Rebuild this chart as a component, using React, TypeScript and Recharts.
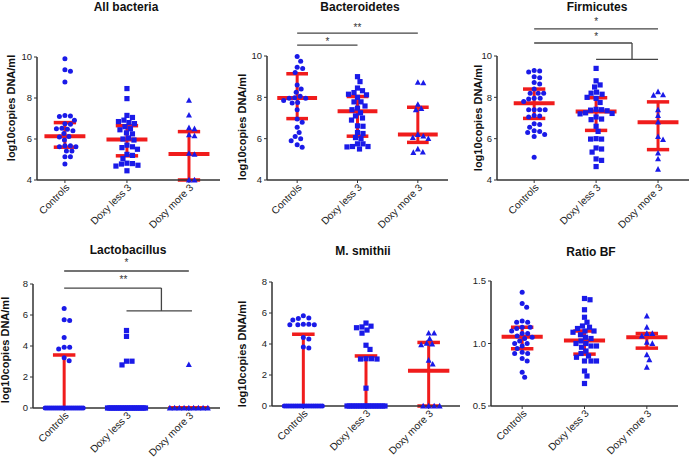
import React from 'react';
import { ComposedChart, Scatter, XAxis, YAxis, ReferenceLine, ReferenceDot } from 'recharts';

const groups = ['Controls', 'Doxy less 3', 'Doxy more 3'];

const BLUE = '#1a1ae8';
const RED = '#f01c1c';
const INK = '#333333';

// All bacteria
const allCtl = [9.92, 9.38, 9.3, 8.78, 7.15, 7.12, 7.1, 6.92, 6.75, 6.72, 6.52, 6.5, 6.48, 6.4, 6.27, 6.12, 6.1, 5.95, 5.67, 5.67, 5.62, 5.62, 5.41, 5.41, 5.14, 5.14, 4.78];
const allLess = [8.46, 7.97, 7.15, 7.05, 6.92, 6.85, 6.8, 6.75, 6.6, 6.5, 6.45, 6.3, 6.25, 6.05, 6.0, 5.95, 5.7, 5.62, 5.58, 5.5, 5.25, 5.2, 5.05, 4.82, 4.8, 4.78, 4.72, 4.68, 4.45];
const allMore = [7.88, 7.16, 6.55, 6.5, 6.2, 6.15, 5.3, 5.25, 4.0, 4.0];
const allMed = [6.13, 5.98, 5.27];
const allLow = [5.6, 5.18, 4.0];
const allHigh = [6.8, 6.65, 6.36];

// Bacteroidetes
const bacCtl = [9.97, 9.75, 9.45, 9.4, 9.2, 8.6, 8.4, 8.25, 8.05, 7.98, 7.95, 7.95, 7.85, 7.75, 7.72, 7.4, 6.95, 6.8, 6.55, 6.3, 6.1, 6.0, 5.9, 5.7, 5.58];
const bacLess = [9.0, 8.76, 8.45, 8.32, 8.23, 8.15, 8.12, 8.0, 7.78, 7.78, 7.58, 7.48, 7.4, 7.25, 7.1, 7.0, 6.9, 6.62, 6.6, 6.3, 6.25, 6.05, 6.0, 5.75, 5.75, 5.62, 5.62, 5.6, 5.5];
const bacMore = [8.72, 8.7, 7.66, 7.45, 7.4, 6.2, 6.12, 6.05, 6.0, 5.5, 5.35, 5.33];
const bacMed = [7.97, 7.33, 6.2];
const bacLow = [6.97, 6.12, 5.82];
const bacHigh = [9.14, 8.04, 7.52];

// Firmicutes
const firCtl = [9.3, 9.28, 9.22, 9.0, 8.95, 8.72, 8.65, 8.4, 8.2, 8.2, 8.2, 7.95, 7.95, 7.92, 7.8, 7.4, 7.4, 7.4, 7.4, 7.12, 7.1, 7.05, 6.72, 6.68, 6.55, 6.38, 6.35, 6.3, 6.2, 6.1, 5.1];
const firLess = [9.4, 8.8, 8.6, 8.5, 8.25, 8.2, 8.15, 8.0, 7.95, 7.75, 7.42, 7.4, 7.38, 7.35, 7.25, 7.22, 7.2, 7.05, 6.95, 6.92, 6.6, 6.35, 6.0, 5.98, 5.98, 5.55, 5.5, 5.35, 5.02, 4.95, 4.65];
const firMore = [8.27, 8.12, 8.1, 7.4, 7.12, 6.8, 6.1, 5.95, 5.3, 5.02, 4.52];
const firMed = [7.71, 7.32, 6.8];
const firLow = [6.98, 6.4, 5.47];
const firHigh = [8.4, 7.98, 7.78];

// Lactobacillus
const lacCtl = [6.42, 5.7, 5.65, 4.55, 3.92, 3.92, 3.8, 3.25, 3.05, 0, 0, 0, 0, 0, 0, 0, 0, 0, 0, 0, 0, 0, 0, 0, 0, 0, 0, 0, 0];
const lacLess = [5.0, 4.62, 3.02, 3.02, 2.78, 0, 0, 0, 0, 0, 0, 0, 0, 0, 0, 0, 0, 0, 0, 0, 0, 0, 0, 0, 0, 0, 0];
const lacMore = [2.8, 0, 0, 0, 0, 0, 0, 0, 0, 0];
const lacMed = [0, 0, 0];
const lacLow = [0, 0, 0];
const lacHigh = [3.42, 0, 0];

// M. smithii
const msmCtl = [5.82, 5.68, 5.65, 5.55, 5.28, 5.27, 5.25, 5.25, 5.25, 4.42, 4.32, 3.8, 3.75, 0, 0, 0, 0, 0, 0, 0, 0, 0, 0, 0, 0, 0, 0, 0, 0, 0, 0];
const msmLess = [5.35, 5.15, 5.1, 5.05, 4.9, 4.7, 3.92, 3.65, 3.05, 3.05, 3.03, 3.03, 1.15, 0, 0, 0, 0, 0, 0, 0, 0, 0, 0, 0, 0, 0, 0, 0, 0, 0];
const msmMore = [4.7, 4.7, 4.35, 4.05, 4.0, 3.95, 2.95, 2.7, 0, 0, 0, 0];
const msmMed = [0, 0, 2.28];
const msmLow = [0, 0, 0];
const msmHigh = [4.63, 3.23, 4.1];

// Ratio BF
const ratCtl = [1.41, 1.32, 1.29, 1.18, 1.17, 1.17, 1.13, 1.13, 1.12, 1.1, 1.08, 1.08, 1.06, 1.05, 1.04, 1.02, 1.0, 1.0, 0.98, 0.96, 0.93, 0.92, 0.92, 0.88, 0.86, 0.77, 0.73];
const ratLess = [1.36, 1.35, 1.27, 1.21, 1.17, 1.14, 1.13, 1.12, 1.1, 1.1, 1.09, 1.07, 1.05, 1.04, 1.02, 1.0, 1.0, 0.98, 0.98, 0.97, 0.94, 0.92, 0.9, 0.89, 0.86, 0.86, 0.86, 0.78, 0.74, 0.68];
const ratMore = [1.22, 1.13, 1.08, 1.08, 1.06, 1.01, 1.0, 0.91, 0.87, 0.81];
const ratMed = [1.055, 1.025, 1.05];
const ratLow = [0.958, 0.915, 0.963];
const ratHigh = [1.13, 1.1, 1.08];

// significance brackets: [x1, y1, x2, y2] in axis units, stars as [x, y, text]
const bacLines = [[0, 10.53, 1, 10.53], [0, 11.11, 2, 11.11]];
const bacStars: [number, number, string][] = [[0.5, 10.7, '*'], [1, 11.38, '**']];
const firLines = [[0, 11.31, 2, 11.31], [0, 10.63, 1.58, 10.63], [1.58, 10.63, 1.58, 9.84], [1, 9.84, 2, 9.84]];
const firStars: [number, number, string][] = [[1, 11.69, '*'], [1, 10.92, '*']];
const lacLines = [[0, 8.84, 2, 8.84], [0, 7.74, 1.56, 7.74], [1.56, 7.74, 1.56, 6.26], [1, 6.26, 2.05, 6.26]];
const lacStars: [number, number, string][] = [[1, 9.36, '*'], [0.95, 8.26, '**']];

// spread points sideways so they don't overlap (beeswarm-style), result in x-axis units
function swarm(values: number[], pyu: number, pxu: number): number[] {
  const d = 5.5;
  const out = new Array(values.length).fill(0);
  const placed: { x: number; y: number }[] = [];
  const same = new Map<number, number[]>();
  values.forEach((v, i) => {
    const a = same.get(v) ?? [];
    a.push(i);
    same.set(v, a);
  });
  same.forEach((idx, v) => {
    if (idx.length < 7) return;
    const n = idx.length;
    idx.forEach((i, k) => {
      const x = -19 + (38 * k) / (n - 1);
      out[i] = x / pxu;
      placed.push({ x, y: v * pyu });
    });
  });
  const order = values
    .map((_, i) => i)
    .filter((i) => same.get(values[i])!.length < 7)
    .sort((a, b) => values[b] - values[a]);
  for (const i of order) {
    const y = values[i] * pyu;
    let x = 0;
    for (let k = 0; k < 300; k++) {
      const c = k === 0 ? 0 : (k % 2 ? 1 : -1) * Math.ceil(k / 2) * 0.5;
      if (placed.every((p) => Math.hypot(p.x - c, p.y - y) >= d)) {
        x = c;
        break;
      }
    }
    placed.push({ x, y });
    out[i] = x / pxu;
  }
  return out;
}

const Circle = (p: any) => <circle cx={p.cx} cy={p.cy} r={2.5} fill={BLUE} />;
const Square = (p: any) => <rect x={p.cx - 2.6} y={p.cy - 2.6} width={5.2} height={5.2} fill={BLUE} />;
const Triangle = (p: any) => (
  <polygon points={`${p.cx},${p.cy - 3.2} ${p.cx + 3},${p.cy + 2.4} ${p.cx - 3},${p.cy + 2.4}`} fill={BLUE} />
);
const shapes = [Circle, Square, Triangle];

const YTitle = ({ px, py }: any) => (
  <text
    x={0}
    y={0}
    transform={`translate(${px},${py}) rotate(-90)`}
    textAnchor="middle"
    dominantBaseline="central"
    fontSize={11}
    fontWeight="bold"
    fill="#111"
  >
    log10copies DNA/ml
  </text>
);

const StarText = (p: any) => (
  <text x={p.cx} y={p.cy} textAnchor="middle" dominantBaseline="central" fontSize={10} fill={INK}>
    {p.text}
  </text>
);

type PanelProps = {
  title: string;
  left: number;
  top: number;
  width: number;
  height: number;
  mTop: number;
  mRight: number;
  yWidth: number;
  xHeight: number;
  xDomain: [number, number];
  yDomain: [number, number];
  yTicks: number[];
  yFmt?: (v: number) => string;
  series: number[][];
  med: number[];
  low: number[];
  high: number[];
  lines?: number[][];
  stars?: [number, number, string][];
  titleX: number;
  titleY: number;
  yLabel?: [number, number];
};

const Panel = (p: PanelProps) => {
  const plotW = p.width - p.mRight - p.yWidth;
  const plotH = p.height - p.mTop - p.xHeight;
  const pxu = plotW / (p.xDomain[1] - p.xDomain[0]);
  const pyu = plotH / (p.yDomain[1] - p.yDomain[0]);
  const data = p.series.map((vals, g) => {
    const off = swarm(vals, pyu, pxu);
    return vals.map((v, i) => ({ x: g + off[i], y: v }));
  });
  return (
    <div style={{ position: 'absolute', left: p.left, top: p.top, width: p.width, height: p.height }}>
      <ComposedChart
        width={p.width}
        height={p.height}
        margin={{ top: p.mTop, right: p.mRight, bottom: 0, left: 0 }}
      >
        <XAxis
          type="number"
          dataKey="x"
          domain={p.xDomain}
          ticks={[0, 1, 2]}
          interval={0}
          tickFormatter={(v: number) => groups[v] ?? ''}
          height={p.xHeight}
          angle={-45}
          textAnchor="end"
          tickSize={3}
          tickMargin={0}
          axisLine={{ stroke: INK, strokeWidth: 1.5 }}
          tickLine={{ stroke: INK }}
          tick={{ fontSize: 10.2, fill: '#222' }}
        />
        <YAxis
          type="number"
          dataKey="y"
          domain={p.yDomain}
          ticks={p.yTicks}
          interval={0}
          width={p.yWidth}
          tickSize={3}
          tickFormatter={p.yFmt}
          axisLine={{ stroke: INK, strokeWidth: 1.5 }}
          tickLine={{ stroke: INK }}
          tick={{ fontSize: 9.5, fill: '#222' }}
          label={p.yLabel ? <YTitle px={p.yLabel[0]} py={p.yLabel[1]} /> : undefined}
        />
        {data.map((d, g) => (
          <Scatter key={g} data={d} shape={shapes[g]} isAnimationActive={false} />
        ))}
        {p.med.map((m, g) => (
          <ReferenceLine key={'m' + g} ifOverflow="visible" stroke={RED} strokeWidth={4}
            segment={[{ x: g - 0.33, y: m }, { x: g + 0.33, y: m }]} />
        ))}
        {p.med.map((_, g) => (
          <ReferenceLine key={'v' + g} ifOverflow="visible" stroke={RED} strokeWidth={3}
            segment={[{ x: g, y: p.low[g] }, { x: g, y: p.high[g] }]} />
        ))}
        {p.low.map((l, g) => (
          <ReferenceLine key={'l' + g} ifOverflow="visible" stroke={RED} strokeWidth={3.5}
            segment={[{ x: g - 0.18, y: l }, { x: g + 0.18, y: l }]} />
        ))}
        {p.high.map((h, g) => (
          <ReferenceLine key={'h' + g} ifOverflow="visible" stroke={RED} strokeWidth={3.5}
            segment={[{ x: g - 0.18, y: h }, { x: g + 0.18, y: h }]} />
        ))}
        {(p.lines ?? []).map((l, i) => (
          <ReferenceLine key={'b' + i} ifOverflow="visible" stroke="#444" strokeWidth={1.3}
            segment={[{ x: l[0], y: l[1] }, { x: l[2], y: l[3] }]} />
        ))}
        {(p.stars ?? []).map((s, i) => (
          <ReferenceDot key={'s' + i} x={s[0]} y={s[1]} ifOverflow="visible"
            shape={(sp: any) => <StarText {...sp} text={s[2]} />} />
        ))}
      </ComposedChart>
      <div
        style={{
          position: 'absolute',
          left: p.titleX - 100,
          top: p.titleY - 7,
          width: 200,
          textAlign: 'center',
          fontSize: 12,
          fontWeight: 'bold',
          lineHeight: '14px',
          color: '#111',
          pointerEvents: 'none',
        }}
      >
        {p.title}
      </div>
    </div>
  );
};

const logTicks = [4, 6, 8, 10];
const lowTicks = [0, 2, 4, 6, 8];

export default function App() {
  return (
    <div
      style={{
        position: 'absolute',
        left: 0,
        top: 0,
        width: 691,
        height: 458,
        background: '#fff',
        overflow: 'hidden',
        fontFamily: '"Liberation Sans", Arial, sans-serif',
      }}
    >
      <Panel title="All bacteria" left={0} top={0} width={230} height={240} mTop={57} mRight={10} yWidth={37}
        xHeight={60} xDomain={[-0.45, 2.5]} yDomain={[4, 10]} yTicks={logTicks}
        series={[allCtl, allLess, allMore]} med={allMed} low={allLow} high={allHigh}
        titleX={126} titleY={7} yLabel={[11, 108]} />
      <Panel title="Bacteroidetes" left={230} top={0} width={230} height={240} mTop={56} mRight={12} yWidth={37}
        xHeight={60} xDomain={[-0.5, 2.5]} yDomain={[4, 10]} yTicks={logTicks}
        series={[bacCtl, bacLess, bacMore]} med={bacMed} low={bacLow} high={bacHigh}
        lines={bacLines} stars={bacStars} titleX={130} titleY={7} yLabel={[12, 127]} />
      <Panel title="Firmicutes" left={460} top={0} width={231} height={240} mTop={56} mRight={2} yWidth={37}
        xHeight={60} xDomain={[-0.6, 2.5]} yDomain={[4, 10]} yTicks={logTicks}
        series={[firCtl, firLess, firMore]} med={firMed} low={firLow} high={firHigh}
        lines={firLines} stars={firStars} titleX={137} titleY={7} yLabel={[18, 118]} />
      <Panel title="Lactobacillus" left={0} top={228} width={230} height={230} mTop={56} mRight={10} yWidth={33}
        xHeight={50} xDomain={[-0.5, 2.5]} yDomain={[0, 8]} yTicks={lowTicks}
        series={[lacCtl, lacLess, lacMore]} med={lacMed} low={lacLow} high={lacHigh}
        lines={lacLines} stars={lacStars} titleX={128} titleY={22} yLabel={[5, 122]} />
      <Panel title="M. smithii" left={230} top={228} width={230} height={230} mTop={54} mRight={0} yWidth={42}
        xHeight={52} xDomain={[-0.5, 2.5]} yDomain={[0, 8]} yTicks={lowTicks}
        series={[msmCtl, msmLess, msmMore]} med={msmMed} low={msmLow} high={msmHigh}
        titleX={133} titleY={23} yLabel={[12, 126]} />
      <Panel title="Ratio BF" left={460} top={228} width={231} height={230} mTop={53} mRight={13} yWidth={31}
        xHeight={52} xDomain={[-0.5, 2.5]} yDomain={[0.5, 1.5]} yTicks={[0.5, 1.0, 1.5]}
        yFmt={(v: number) => v.toFixed(1)}
        series={[ratCtl, ratLess, ratMore]} med={ratMed} low={ratLow} high={ratHigh}
        titleX={131} titleY={24} />
    </div>
  );
}
